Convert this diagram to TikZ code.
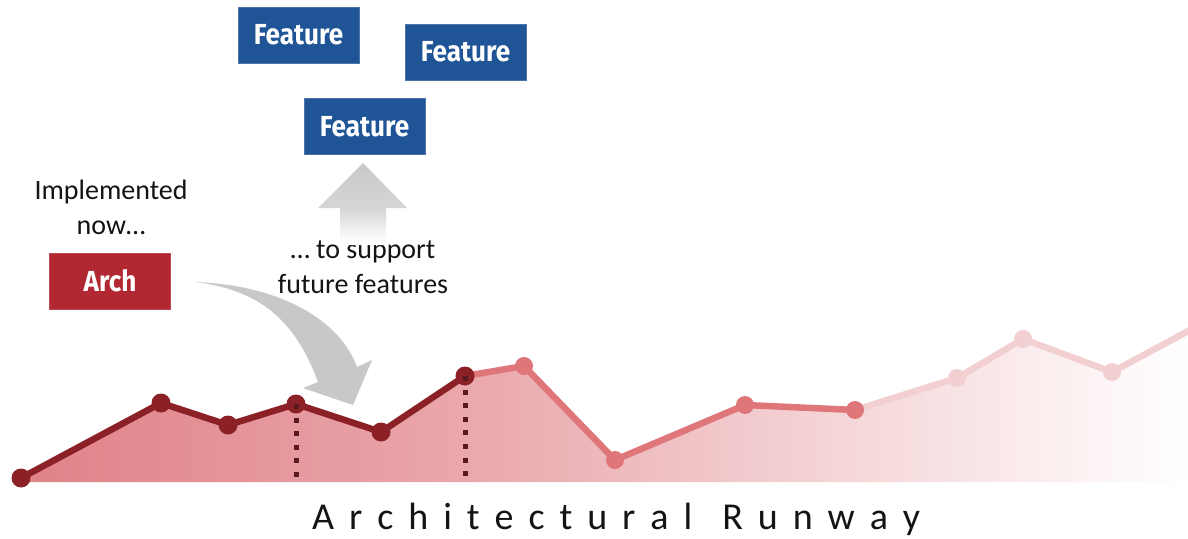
\documentclass[tikz,border=0pt]{standalone}
\usepackage{fontspec}
\usepackage{graphicx}
\setmainfont{Carlito}
\newfontfamily\boxfont{Fira Sans}

\definecolor{featblue}{RGB}{31,84,150}
\definecolor{archred}{RGB}{178,40,50}
\definecolor{rundark}{RGB}{139,32,38}
\definecolor{runmid}{RGB}{222,118,122}
\definecolor{runlight}{RGB}{242,208,210}
\definecolor{runfill}{RGB}{224,130,136}
\definecolor{dashdark}{RGB}{90,25,30}
\definecolor{arrowgray}{RGB}{200,200,203}
\definecolor{textdark}{RGB}{20,20,20}

% area under the runway: fades from rose to white towards the right
\pgfdeclarehorizontalshading{runwayfade}{100bp}{%
  color(0bp)=(runfill); color(25bp)=(runfill);
  color(44bp)=(runfill!70!white); color(57bp)=(runfill!40!white);
  color(69bp)=(runfill!13!white); color(75bp)=(white); color(100bp)=(white)}
% upward arrow: solid head, shaft fading out downwards
\pgfdeclareverticalshading{risefade}{100bp}{%
  color(0bp)=(white); color(25bp)=(white); color(30bp)=(arrowgray!10!white);
  color(47bp)=(arrowgray!75!white); color(75bp)=(arrowgray); color(100bp)=(arrowgray)}

\begin{document}
\begin{tikzpicture}[x=1pt,y=-1pt,
  featbox/.style={fill=featblue, draw=featblue!80!white, line width=0.8pt,
    minimum width=121pt, minimum height=56pt, inner sep=0pt, text=white,
    font=\boxfont\bfseries\fontsize{29}{29}\selectfont},
  archbox/.style={featbox, fill=archred, draw=archred!85!white},
  note/.style={align=center, text=textdark, inner sep=0pt,
    font=\fontsize{28}{35}\selectfont},
  runline/.style={line width=6.5pt, line join=round, line cap=round},
  dropline/.style={dashdark, line width=5pt, dash pattern=on 5pt off 8.6pt}]

\fill[white] (0,0) rectangle (1188,538);
\useasboundingbox (0,0) rectangle (1188,538);

% feature boxes
\node[featbox] (f1) at (298.5,35)  {\scalebox{0.9}[1]{Feature}};
\node[featbox] (f2) at (465.5,52)  {\scalebox{0.9}[1]{Feature}};
\node[featbox] (f3) at (364.5,126.5) {\scalebox{0.9}[1]{Feature}};

% architecture box and captions
\node[archbox] (arch) at (110,281) {\scalebox{0.9}[1]{Arch}};
\node[note] (now) at (111,207) {Implemented\\now…};
\node[note] (future) at (363,267) {… to support\\future features};

% upward block arrow towards the features
\shade[shading=risefade]
  (363,163) -- (407,208) -- (386,208) -- (386,245) -- (340,245)
  -- (340,208) -- (318,208) -- cycle;

% curved block arrow from the architecture down into the runway
\fill[arrowgray]
  (195,282) .. controls (280,285) and (340,320) .. (357,367)
  -- (372,360) -- (353,405) -- (303,388) -- (318,382)
  .. controls (295,320) and (260,290) .. (195,282) -- cycle;

% runway points
\coordinate (p0) at (21,478);
\coordinate (p1) at (161,403);
\coordinate (p2) at (228,425);
\coordinate (p3) at (296,404);
\coordinate (p4) at (381,432);
\coordinate (p5) at (465,376);
\coordinate (p6) at (524,366);
\coordinate (p7) at (615,460);
\coordinate (p8) at (745,405);
\coordinate (p9) at (855,410);
\coordinate (p10) at (957,378);
\coordinate (p11) at (1023,339);
\coordinate (p12) at (1112,372);
\coordinate (pend) at (1192,329);

% area under the runway
\shade[shading=runwayfade]
  (21,482) -- (p0) -- (p1) -- (p2) -- (p3) -- (p4) -- (p5) -- (p6) -- (p7)
  -- (p8) -- (p9) -- (p10) -- (p11) -- (p12) -- (pend) -- (1192,482) -- cycle;

% runway line: faint future, planned, and built part
\draw[runline, runlight] (p9) -- (p10) -- (p11) -- (p12) -- (pend);
\draw[runline, runmid] (p5) -- (p6) -- (p7) -- (p8) -- (p9);
\draw[runline, rundark] (p0) -- (p1) -- (p2) -- (p3) -- (p4) -- (p5);

\foreach \p in {p10,p11,p12} \fill[runlight] (\p) circle (9pt);
\foreach \p in {p6,p7,p8,p9} \fill[runmid] (\p) circle (9pt);
\foreach \p in {p0,p1,p2,p3,p4,p5} \fill[rundark] (\p) circle (9.5pt);

% drop lines from the architecture points
\coordinate (d3) at (296,479);
\coordinate (d5) at (465,482);
\draw[dropline] (p3) -- (d3);
\draw[dropline] (p5) -- (d5);

% caption
\node[anchor=base west, inner sep=0pt, text=textdark,
  font=\fontsize{38}{40}\selectfont] (runway) at (312,529)
  {\makebox[608pt][s]{A\hfil r\hfil c\hfil h\hfil i\hfil t\hfil e\hfil c\hfil
   t\hfil u\hfil r\hfil a\hfil l\hfil\hfil R\hfil u\hfil n\hfil w\hfil a\hfil y}};
\end{tikzpicture}
\end{document}
